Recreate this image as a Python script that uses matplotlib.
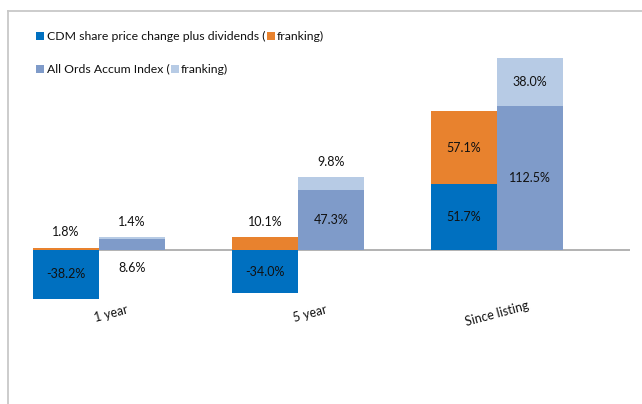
import matplotlib
matplotlib.use("Agg")
import matplotlib.pyplot as plt
from matplotlib.patches import Rectangle
from matplotlib.lines import Line2D
import numpy as np

categories = ['1 year', '5 year', 'Since listing']
cdm_price = [-38.2, -34.0, 51.7]
cdm_franking = [1.8, 10.1, 57.1]
ords_index = [8.6, 47.3, 112.5]
ords_franking = [1.4, 9.8, 38.0]

C_CDM = '#0070C0'
C_CDM_F = '#E8822E'
C_ORD = '#7F9BC9'
C_ORD_F = '#B7CBE5'

plt.rcParams['font.family'] = ['Lato', 'DejaVu Sans']
FS = 9
LFS = 8.8

W, H = 642, 404
fig = plt.figure(figsize=(W / 100, H / 100), dpi=100)

# axes placement in pixels
ax_l, ax_r, ax_t, ax_b = 33, 630, 40, 330
ax = fig.add_axes([ax_l / W, (H - ax_b) / H, (ax_r - ax_l) / W, (ax_b - ax_t) / H])
ppu = 1.276  # pixels per percent
ax.set_ylim(-(ax_b - 250) / ppu, (250 - ax_t) / ppu)
bw = 66 / 199
x = np.arange(len(categories))
ax.set_xlim(-bw, len(categories) - 1 + 0.668)

cdm_f_bottom = [max(v, 0) for v in cdm_price]
ord_f_bottom = [max(v, 0) for v in ords_index]

ax.bar(x - bw / 2, cdm_price, bw, color=C_CDM)
ax.bar(x - bw / 2, cdm_franking, bw, bottom=cdm_f_bottom, color=C_CDM_F)
ax.bar(x + bw / 2, ords_index, bw, color=C_ORD)
ax.bar(x + bw / 2, ords_franking, bw, bottom=ord_f_bottom, color=C_ORD_F)

ax.axhline(0, color='#A6A6A6', lw=1.2, zorder=0.5)

for s in ax.spines.values():
    s.set_visible(False)
ax.set_xticks([])
ax.set_yticks([])

# label placement style: 'c' center, 'a' above, 'b' below zero
place = {
    0: ['c', 'c', 'c'],
    1: ['a', 'a', 'c'],
    2: ['b', 'c', 'c'],
    3: ['a', 'a', 'c'],
}
series = [
    (cdm_price, [0, 0, 0], -bw / 2),
    (cdm_franking, cdm_f_bottom, -bw / 2),
    (ords_index, [0, 0, 0], bw / 2),
    (ords_franking, ord_f_bottom, bw / 2),
]
for si, (vals, bots, dx) in enumerate(series):
    for i, (v, b) in enumerate(zip(vals, bots)):
        p = place[si][i]
        xc = x[i] + dx
        txt = f"{v:.1f}%"
        if p == 'c':
            ax.text(xc, b + v / 2, txt, ha='center', va='center', fontsize=FS, color='#111111')
        elif p == 'a':
            ax.annotate(txt, (xc, b + v), xytext=(0, 11), textcoords='offset points',
                        ha='center', va='center', fontsize=FS, color='#111111')
        else:
            ax.annotate(txt, (xc, 0), xytext=(0, -13), textcoords='offset points',
                        ha='center', va='center', fontsize=FS, color='#111111')

# category labels (rotated)
cat_dx = [0.06, 0.06, 0.0]
for i, c in enumerate(categories):
    ax.text(x[i] + cat_dx[i], -50, c, rotation=15, ha='center', va='center',
            fontsize=FS, color='#111111', rotation_mode='anchor')

# frame lines
fig.add_artist(Line2D([8 / W, 8 / W], [0, 1 - 11 / H], transform=fig.transFigure, color='#C8C8C8', lw=1.3))
fig.add_artist(Line2D([8 / W, 1], [1 - 11 / H, 1 - 11 / H], transform=fig.transFigure, color='#C8C8C8', lw=1.3))

# custom legend
fig.canvas.draw()
renderer = fig.canvas.get_renderer()

def square(px, py, color):
    fig.add_artist(Rectangle((px / W, 1 - (py + 4) / H), 8 / W, 8 / H,
                             transform=fig.transFigure, color=color, lw=0))

def legend_line(py, c1, t1, c2, t2):
    square(36, py, c1)
    t = fig.text(47 / W, 1 - py / H, t1, ha='left', va='center', fontsize=LFS, color='#111111')
    bb = t.get_window_extent(renderer)
    xe = bb.x1
    square(xe + 1, py, c2)
    fig.text((xe + 11) / W, 1 - py / H, t2, ha='left', va='center', fontsize=LFS, color='#111111')

legend_line(36, C_CDM, 'CDM share price change plus dividends (', C_CDM_F, 'franking)')
legend_line(69, C_ORD, 'All Ords Accum Index (', C_ORD_F, 'franking)')

fig.savefig('out.png', dpi=100)
